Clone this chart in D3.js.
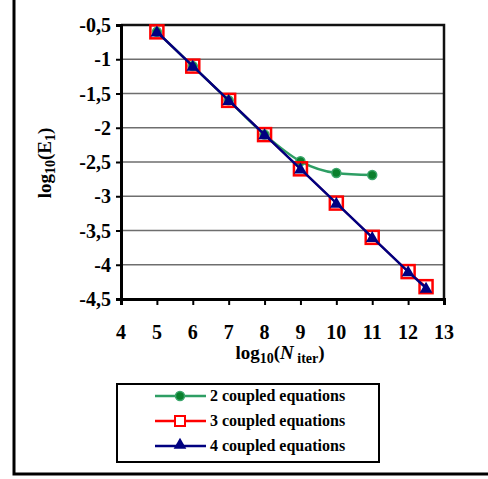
<!DOCTYPE html>
<html>
<head>
<meta charset="utf-8">
<script src="https://cdn.jsdelivr.net/npm/d3@7"></script>
<style>
  body { margin: 0; background: #fff; }
  svg text { font-family: "Liberation Serif", "Times New Roman", serif; font-weight: bold; fill: #000; }
</style>
</head>
<body>
<div id="graph"></div>
<script>
// data
var xTicks = [4, 5, 6, 7, 8, 9, 10, 11, 12, 13];
var yTicks = [-0.5, -1, -1.5, -2, -2.5, -3, -3.5, -4, -4.5];

var x2 = [5, 6, 7, 8, 9, 10, 11];
var y2 = [-0.6, -1.1, -1.6, -2.1, -2.49, -2.66, -2.69];

var x3 = [5, 6, 7, 8, 9, 10, 11, 12, 12.5];
var y3 = [-0.6, -1.1, -1.6, -2.1, -2.6, -3.1, -3.6, -4.1, -4.32];

var x4 = [5, 6, 7, 8, 9, 10, 11, 12, 12.5];
var y4 = [-0.6, -1.1, -1.6, -2.1, -2.6, -3.1, -3.6, -4.1, -4.34];

var labels = ["2 coupled equations", "3 coupled equations", "4 coupled equations"];

var width = 488, height = 479;
var svg = d3.select("#graph").append("svg")
    .attr("width", width)
    .attr("height", height);

// outer frame (left + bottom only)
svg.append("path")
    .attr("d", "M14,0 V474 H488")
    .attr("fill", "none")
    .attr("stroke", "#000")
    .attr("stroke-width", 3);

var pLeft = 121, pRight = 444, pTop = 25, pBottom = 299;
var x = d3.scaleLinear().domain([4, 13]).range([pLeft, pRight]);
var y = d3.scaleLinear().domain([-4.5, -0.5]).range([pBottom, pTop]);

var fmt = function(d){ return String(d).replace(".", ","); };

// gridlines
svg.selectAll(".grid")
    .data(yTicks.slice(1, -1))
    .enter().append("line")
    .attr("x1", pLeft).attr("x2", pRight)
    .attr("y1", function(d){ return y(d); })
    .attr("y2", function(d){ return y(d); })
    .attr("stroke", "#6e6e6e")
    .attr("stroke-width", 1.5);

// frame top/right
svg.append("path")
    .attr("d", "M" + pLeft + "," + pTop + " H" + pRight + " V" + pBottom)
    .attr("fill", "none")
    .attr("stroke", "#111")
    .attr("stroke-width", 2.5);

// axes (lines + ticks from d3, labels drawn separately)
var xAxis = svg.append("g")
    .attr("transform", "translate(0," + pBottom + ")")
    .call(d3.axisBottom(x).tickValues(xTicks).tickSize(6).tickFormat(""));
var yAxis = svg.append("g")
    .attr("transform", "translate(" + pLeft + ",0)")
    .call(d3.axisLeft(y).tickValues(yTicks).tickSize(5).tickFormat(""));

[xAxis, yAxis].forEach(function(a){
    a.select(".domain").attr("stroke", "#000").attr("stroke-width", 3);
    a.selectAll(".tick line").attr("stroke", "#000").attr("stroke-width", 2);
    a.selectAll("text").remove();
});

svg.selectAll(".xlab").data(xTicks).enter().append("text")
    .attr("class", "xlab")
    .attr("x", function(d){ return x(d); })
    .attr("y", pBottom + 40)
    .attr("text-anchor", "middle")
    .style("font-size", "20px")
    .text(d3.format("d"));

svg.selectAll(".ylab").data(yTicks).enter().append("text")
    .attr("class", "ylab")
    .attr("x", pLeft - 10)
    .attr("y", function(d){ return y(d); })
    .attr("dy", "0.35em")
    .attr("text-anchor", "end")
    .style("font-size", "20px")
    .text(fmt);

// axis titles
var yl = svg.append("text")
    .attr("transform", "translate(51,163) rotate(-90)")
    .attr("text-anchor", "middle")
    .style("font-size", "19px");
yl.append("tspan").text("log");
yl.append("tspan").attr("dy", 4).style("font-size", "14px").text("10");
yl.append("tspan").attr("dy", -4).text("(E");
yl.append("tspan").attr("dy", 4).style("font-size", "14px").text("1");
yl.append("tspan").attr("dy", -4).text(")");

var xl = svg.append("text")
    .attr("x", 280).attr("y", 359)
    .attr("text-anchor", "middle")
    .style("font-size", "19px");
xl.append("tspan").text("log");
xl.append("tspan").attr("dy", 4).style("font-size", "14px").text("10");
xl.append("tspan").attr("dy", -4).text("(");
xl.append("tspan").style("font-style", "italic").text("N");
xl.append("tspan").attr("dy", 4).style("font-size", "14px").text(" iter");
xl.append("tspan").attr("dy", -4).text(")");

function pts(xs, ys){ return xs.map(function(d, i){ return [d, ys[i]]; }); }

var d2 = pts(x2, y2), d3s = pts(x3, y3), d4 = pts(x4, y4);

var smooth = d3.line().curve(d3.curveMonotoneX)
    .x(function(d){ return x(d[0]); }).y(function(d){ return y(d[1]); });
var straight = d3.line()
    .x(function(d){ return x(d[0]); }).y(function(d){ return y(d[1]); });

// series 2 (green)
svg.append("path").attr("d", smooth(d2))
    .attr("fill", "none").attr("stroke", "#2e9e64").attr("stroke-width", 2.5);
svg.selectAll(".p2").data(d2).enter().append("circle")
    .attr("cx", function(d){ return x(d[0]); })
    .attr("cy", function(d){ return y(d[1]); })
    .attr("r", 4.5)
    .attr("fill", "#0a7f2c").attr("stroke", "#3aa56b").attr("stroke-width", 1.5);

// series 3 (red)
svg.append("path").attr("d", straight(d3s))
    .attr("fill", "none").attr("stroke", "#ff0000").attr("stroke-width", 2);
svg.selectAll(".p3").data(d3s).enter().append("rect")
    .attr("x", function(d){ return x(d[0]) - 6.5; })
    .attr("y", function(d){ return y(d[1]) - 6.5; })
    .attr("width", 13).attr("height", 13)
    .attr("fill", "none").attr("stroke", "#ff0000").attr("stroke-width", 2.5);

// series 4 (navy)
svg.append("path").attr("d", straight(d4))
    .attr("fill", "none").attr("stroke", "#000080").attr("stroke-width", 2.5);
var tri = d3.symbol().type(d3.symbolTriangle).size(70);
svg.selectAll(".p4").data(d4).enter().append("path")
    .attr("d", tri)
    .attr("transform", function(d){ return "translate(" + x(d[0]) + "," + (y(d[1]) + 1) + ")"; })
    .attr("fill", "#000080");

// legend
svg.append("rect")
    .attr("x", 117).attr("y", 384).attr("width", 262).attr("height", 78)
    .attr("fill", "#fff").attr("stroke", "#000").attr("stroke-width", 2);

var colors = ["#2e9e64", "#ff0000", "#000080"];
labels.forEach(function(lab, i){
    var ly = 396 + i * 25;
    svg.append("line")
        .attr("x1", 155).attr("x2", 206)
        .attr("y1", ly).attr("y2", ly)
        .attr("stroke", colors[i]).attr("stroke-width", 2.5);
    if (i === 0) {
        svg.append("circle").attr("cx", 180).attr("cy", ly).attr("r", 4.5)
            .attr("fill", "#0a7f2c").attr("stroke", "#3aa56b").attr("stroke-width", 1.5);
    } else if (i === 1) {
        svg.append("rect").attr("x", 175).attr("y", ly - 5).attr("width", 10).attr("height", 10)
            .attr("fill", "#fff").attr("stroke", "#ff0000").attr("stroke-width", 2);
    } else {
        svg.append("path").attr("d", tri)
            .attr("transform", "translate(180," + (ly - 1) + ")")
            .attr("fill", "#000080");
    }
    svg.append("text")
        .attr("x", 210).attr("y", ly + 5)
        .style("font-size", "16px")
        .text(lab);
});
</script>
</body>
</html>
